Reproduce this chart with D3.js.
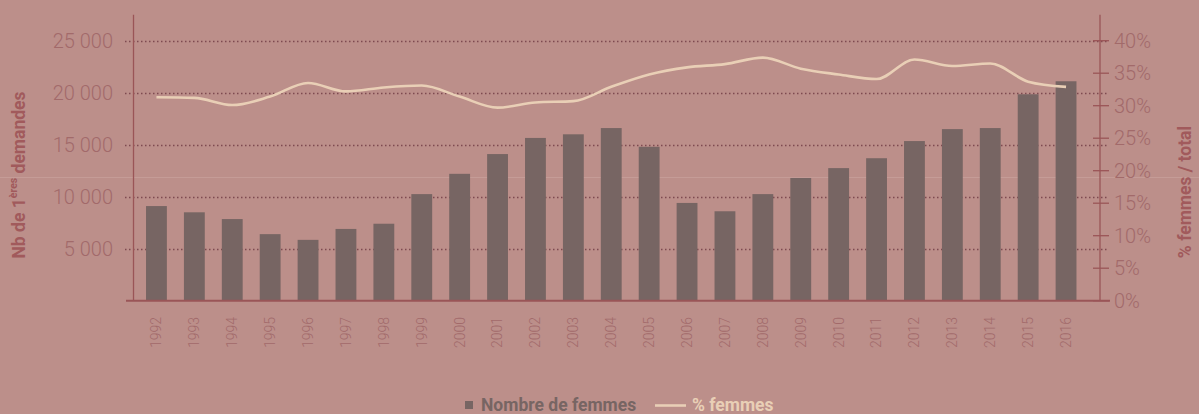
<!DOCTYPE html>
<html>
<head>
<meta charset="utf-8">
<script src="https://cdn.jsdelivr.net/npm/d3@7"></script>
<style>
  html, body { margin: 0; padding: 0; background: #bc8f8a; }
  svg { display: block; }
  text { font-family: Roboto, "Noto Sans", sans-serif; }
</style>
</head>
<body>
<svg id="chart" width="1199" height="414"></svg>
<script>
const years = ["1992","1993","1994","1995","1996","1997","1998","1999","2000","2001","2002","2003","2004","2005","2006","2007","2008","2009","2010","2011","2012","2013","2014","2015","2016"];
const nombreFemmes = [9100,8500,7850,6400,5850,6900,7400,10250,12200,14100,15650,16000,16600,14800,9400,8600,10250,11800,12750,13700,15350,16500,16600,19850,21100];
const pctFemmes = [31.3,31.2,30.1,31.4,33.5,32.2,32.8,33.1,31.4,29.7,30.5,30.7,32.9,34.8,35.9,36.4,37.4,35.7,34.8,34.1,37.1,36.1,36.5,33.7,32.9];
const leftTicks = [5000,10000,15000,20000,25000];
const rightTicks = [0,5,10,15,20,25,30,35,40];

const svg = d3.select("#chart");
const W = 1199, H = 414;
const bg = "#bc8f8a", barColor = "#776563", lineColor = "#e9cfb6";
const axisColor = "#9a5557", tickText = "#a26a6a", titleColor = "#a15a5c", gridColor = "#7e4a50";

svg.append("rect").attr("width", W).attr("height", H).attr("fill", bg);

const yTop = 14.7, yBase = 300.7;
const x = d3.scaleBand().domain(years).range([137.5, 1085]).paddingInner(0.45).paddingOuter(0.225);
const yL = d3.scaleLinear().domain([0, 27500]).range([yBase, yTop]);
const yR = d3.scaleLinear().domain([0, 44]).range([yBase, yTop]);

// faint horizontal rule present in the original picture
svg.append("line").attr("x1", 0).attr("x2", W).attr("y1", 177.5).attr("y2", 177.5)
  .attr("stroke", "#c59c97").attr("stroke-width", 1);

// gridlines (left axis)
svg.append("g").selectAll("line").data(leftTicks).join("line")
  .attr("x1", 125).attr("x2", 1109)
  .attr("y1", d => Math.round(yL(d)) + 0.5).attr("y2", d => Math.round(yL(d)) + 0.5)
  .attr("stroke", gridColor).attr("stroke-width", 1.5).attr("stroke-dasharray", "1.5,2.5");

// left axis labels
const fmt = d => d3.format(",")(d).replace(",", " ");
svg.append("g").selectAll("text").data(leftTicks).join("text")
  .attr("x", 113).attr("y", d => yL(d)).attr("dy", "0.36em")
  .attr("text-anchor", "end").attr("font-size", 20).attr("font-weight", 300)
  .attr("fill", tickText).text(fmt);

// left axis line
svg.append("line").attr("x1", 133.5).attr("x2", 133.5).attr("y1", yTop).attr("y2", yBase)
  .attr("stroke", axisColor).attr("stroke-width", 1.3);

// bars
svg.append("g").selectAll("rect").data(years).join("rect")
  .attr("x", d => x(d)).attr("width", x.bandwidth())
  .attr("y", (d, i) => yL(nombreFemmes[i]))
  .attr("height", (d, i) => yBase - yL(nombreFemmes[i]))
  .attr("fill", barColor);

// right axis
const rg = svg.append("g").attr("transform", "translate(1100,0)");
rg.append("line").attr("x1", 0).attr("x2", 0).attr("y1", yTop).attr("y2", yBase)
  .attr("stroke", axisColor).attr("stroke-width", 1.3);
rg.selectAll("line.tk").data(rightTicks).join("line").attr("class", "tk")
  .attr("x1", -7).attr("x2", 9).attr("y1", d => yR(d)).attr("y2", d => yR(d))
  .attr("stroke", axisColor).attr("stroke-width", 1.3);
rg.selectAll("text").data(rightTicks).join("text")
  .attr("x", 14).attr("y", d => yR(d)).attr("dy", "0.36em")
  .attr("font-size", 20).attr("font-weight", 300).attr("fill", tickText)
  .text(d => d + "%");

// baseline
svg.append("line").attr("x1", 126).attr("x2", 1110).attr("y1", yBase).attr("y2", yBase)
  .attr("stroke", axisColor).attr("stroke-width", 2);

// x labels
svg.append("g").selectAll("text").data(years).join("text")
  .attr("transform", d => `translate(${x(d) + x.bandwidth() / 2},317) rotate(-90)`)
  .attr("dy", "0.35em").attr("text-anchor", "end")
  .attr("font-size", 14).attr("font-weight", 300).attr("fill", tickText)
  .text(d => d);

// percentage line
const line = d3.line()
  .x((d, i) => x(years[i]) + x.bandwidth() / 2)
  .y(d => yR(d))
  .curve(d3.curveMonotoneX);
svg.append("path").datum(pctFemmes).attr("d", line)
  .attr("fill", "none").attr("stroke", lineColor).attr("stroke-width", 2.6);

// axis titles
const lt = svg.append("text").attr("transform", "translate(25,175) rotate(-90)")
  .attr("text-anchor", "middle").attr("font-size", 17.5).attr("font-weight", 700).attr("fill", titleColor);
lt.append("tspan").text("Nb de 1");
lt.append("tspan").attr("font-size", 10.5).attr("dy", "-0.8em").text("ères");
lt.append("tspan").attr("dy", "0.5em").text(" demandes");

svg.append("text").attr("transform", "translate(1191,192) rotate(-90)")
  .attr("text-anchor", "middle").attr("font-size", 17.5).attr("font-weight", 700).attr("fill", titleColor)
  .text("% femmes / total");

// legend
const lg = svg.append("g");
lg.append("rect").attr("x", 465).attr("y", 401).attr("width", 8).attr("height", 8).attr("fill", barColor);
lg.append("text").attr("x", 481).attr("y", 405).attr("dy", "0.36em")
  .attr("font-size", 17.5).attr("font-weight", 700).attr("fill", barColor).text("Nombre de femmes");
lg.append("line").attr("x1", 655).attr("x2", 686).attr("y1", 405.5).attr("y2", 405.5)
  .attr("stroke", lineColor).attr("stroke-width", 2.6);
lg.append("text").attr("x", 692).attr("y", 405).attr("dy", "0.36em")
  .attr("font-size", 17.5).attr("font-weight", 700).attr("fill", lineColor).text("% femmes");
</script>
</body>
</html>
